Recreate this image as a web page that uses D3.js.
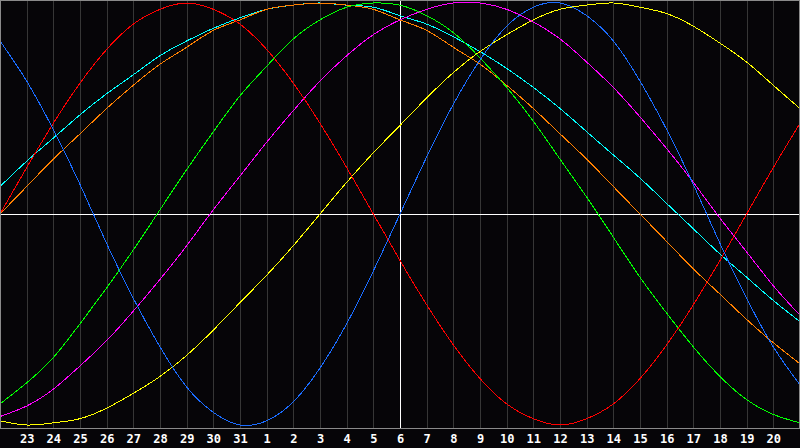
<!DOCTYPE html>
<html>
<head>
<meta charset="utf-8">
<script src="https://cdn.jsdelivr.net/npm/d3@7"></script>
<style>
  html, body { margin: 0; padding: 0; background: #060508; }
  svg { display: block; }
</style>
</head>
<body>
<div id="chart_container"></div>
<script>
// Chart data (-100..100, one per day column)

const dayLabels = ["23", "24", "25", "26", "27", "28", "29", "30", "31",
  "1", "2", "3", "4", "5", "6", "7", "8", "9", "10",
  "11", "12", "13", "14", "15", "16", "17", "18", "19", "20"]

const physical = [82, 63, 40, 14, -14, -40, -63, -82, -94, -100, -98, -89, -73, -52, -27,
  0, 27, 52, 73, 89, 98, 100, 94, 82, 63, 40, 14, -14, -40, -63, -81]
const emotional = [0, 22, 43, 62, 78, 90, 97, 100, 97, 90, 78, 62, 43, 22, 0,
  -22, -43, -62, -78, -90, -97, -100, -97, -90, -78, -62, -43, -22, 0, 22, 43]
const intellectual = [-90, -80, -68, -52, -35, -17, 2, 21, 39, 56, 70, 83, 92, 98, 100,
  99, 94, 86, 74, 60, 44, 26, 8, -11, -30, -47, -63, -77, -88, -95, -99]
const intuitive = [-96, -91, -83, -72, -60, -46, -31, -15, 2, 18, 34, 49, 63, 75, 85,
  92, 97, 100, 100, 97, 91, 83, 72, 60, 46, 31, 15, -2, -18, -34, -48]
const aesthetic = [-98, -100, -99, -97, -92, -85, -77, -67, -55, -42, -29, -15, 0, 15, 29,
  42, 55, 67, 77, 85, 92, 97, 99, 100, 98, 95, 89, 81, 72, 61, 50]
const awareness = [0, 13, 26, 38, 50, 61, 71, 79, 87, 92, 97, 99, 100, 99, 97,
  92, 87, 79, 71, 61, 50, 38, 26, 13, 0, -13, -26, -38, -50, -61, -71]
const spiritual = [13, 25, 36, 47, 57, 66, 75, 82, 88, 93, 97, 99, 100, 99, 98,
  94, 90, 84, 77, 69, 60, 50, 39, 28, 17, 5, -7, -19, -30, -41, -51]

const series = [
  { name: "spiritual", values: spiritual, color: "#00ffff" },
  { name: "awareness", values: awareness, color: "#ff8000" },
  { name: "aesthetic", values: aesthetic, color: "#ffff00" },
  { name: "intuitive", values: intuitive, color: "#ff00ff" },
  { name: "intellectual", values: intellectual, color: "#00ff00" },
  { name: "emotional", values: emotional, color: "#ff0000" },
  { name: "physical", values: physical, color: "#1a6cff" }
]

const todayIndex = 15   // day "6"
const totalW = 800
const totalH = 448
const plotBottom = 428
const fontSize = "12px"

// Scales

const x = d3.scaleLinear().domain([0, 30]).range([0, totalW])
const y = d3.scaleLinear().domain([-100, 100]).range([425, 3])

const svg = d3.select("#chart_container").append("svg")
  .attr("width", totalW)
  .attr("height", totalH)

svg.append("rect")
  .attr("width", totalW)
  .attr("height", totalH)
  .attr("fill", "#060508")

// vertical day gridlines
svg.selectAll("line.grid")
  .data(d3.range(1, 30))
  .join("line")
  .attr("class", "grid")
  .attr("x1", d => Math.round(x(d)) + 0.5)
  .attr("x2", d => Math.round(x(d)) + 0.5)
  .attr("y1", 0)
  .attr("y2", plotBottom)
  .attr("stroke", "#363636")
  .attr("stroke-width", 1)
  .attr("shape-rendering", "crispEdges")

// zero line and today line
svg.append("line")
  .attr("x1", 0).attr("x2", totalW)
  .attr("y1", Math.round(y(0)) + 0.5).attr("y2", Math.round(y(0)) + 0.5)
  .attr("stroke", "#ffffff")
  .attr("shape-rendering", "crispEdges")

svg.append("line")
  .attr("x1", Math.round(x(todayIndex)) + 0.5).attr("x2", Math.round(x(todayIndex)) + 0.5)
  .attr("y1", 0).attr("y2", plotBottom)
  .attr("stroke", "#ffffff")
  .attr("shape-rendering", "crispEdges")

// curves
const line = d3.line()
  .x((d, i) => x(i))
  .y(d => y(d))
  .curve(d3.curveNatural)

svg.selectAll("path.cycle")
  .data(series)
  .join("path")
  .attr("class", "cycle")
  .attr("fill", "none")
  .attr("stroke", d => d.color)
  .attr("stroke-width", 1)
  .attr("shape-rendering", "crispEdges")
  .attr("d", d => line(d.values))

// border
svg.append("rect")
  .attr("x", 0.5).attr("y", 0.5)
  .attr("width", totalW - 1).attr("height", plotBottom - 0.5)
  .attr("fill", "none")
  .attr("stroke", "#8a8a8a")
  .attr("shape-rendering", "crispEdges")

// day labels
svg.append("g")
  .attr("transform", `translate(0, ${plotBottom})`)
  .call(d3.axisBottom(x)
    .tickValues(d3.range(1, 30))
    .tickFormat(d => dayLabels[d - 1])
    .tickSize(0)
    .tickPadding(6))
  .call(g => g.select(".domain").remove())
  .selectAll(".tick text")
  .attr("fill", "#ffffff")
  .style("font-family", "'DejaVu Sans Mono', monospace")
  .style("font-weight", "bold")
  .style("font-size", fontSize)
</script>
</body>
</html>
